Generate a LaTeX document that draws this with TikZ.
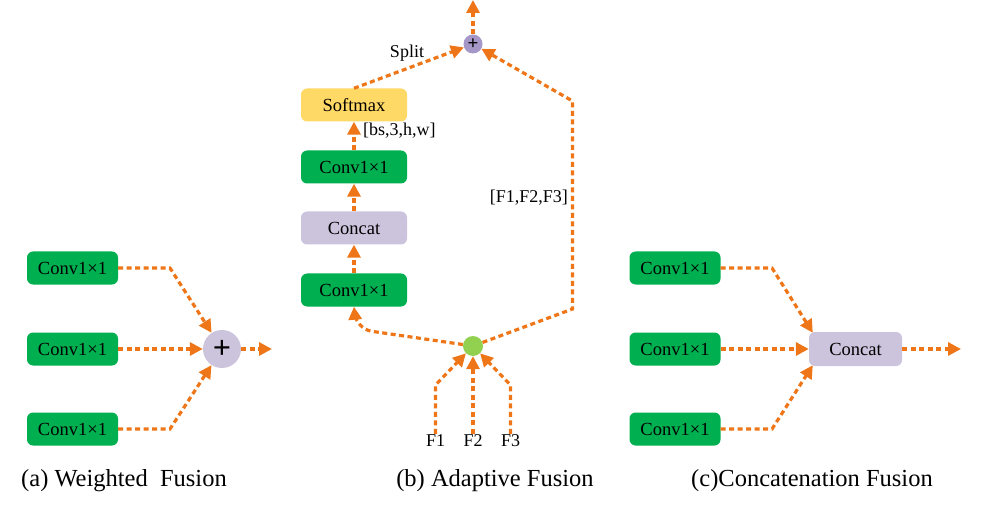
\documentclass[tikz,border=0pt]{standalone}
\usepackage{fontspec}
\setmainfont{Liberation Serif}
\usetikzlibrary{arrows.meta}
\definecolor{cgreen}{HTML}{00B050}
\definecolor{clav}{HTML}{CCC3DD}
\definecolor{cyel}{HTML}{FFD966}
\definecolor{corange}{HTML}{EE7618}
\definecolor{cpurp}{HTML}{A597C8}
\definecolor{cdot}{HTML}{92D050}
\tikzset{
  box/.style={rounded corners=6pt, minimum width=91pt, minimum height=33pt, inner sep=0pt, font=\fontsize{18.5}{21}\selectfont},
  gbox/.style={box, fill=cgreen},
  lbox/.style={box, fill=clav},
  ybox/.style={box, fill=cyel},
  arr/.style={draw=corange, line width=3.2pt, dash pattern=on 5pt off 3.5pt, -{Triangle[length=13pt,width=13pt]}},
  lbl/.style={font=\fontsize{18}{21}\selectfont, inner sep=1pt},
  captxt/.style={font=\fontsize{24.5}{28}\selectfont},
}
\begin{document}
\begin{tikzpicture}[x=1pt,y=-1pt]
\useasboundingbox (0,0) rectangle (990,529);
% ---------- (a) ----------
\node[gbox] (a1) at (72.5,268) {Conv1×1};
\node[gbox] (a2) at (72.5,349) {Conv1×1};
\node[gbox] (a3) at (72.5,429) {Conv1×1};
\node[circle, fill=clav, minimum size=38pt, inner sep=0pt, font=\bfseries\fontsize{32}{32}\selectfont] (ap) at (222,349) {+};
\coordinate (aout) at (272,349);
\draw[arr] (a1.east) -- (170,268) -- (ap);
\draw[arr] (a2.east) -- (ap);
\draw[arr] (a3.east) -- (170,429) -- (ap);
\draw[arr] (ap) -- (aout);
\node[captxt] (capa) at (124,481) {(a) Weighted\ \ Fusion};
% ---------- (b) ----------
\node[ybox, minimum width=106pt] (sm) at (354,105) {Softmax};
\node[gbox, minimum width=106pt] (b2) at (354,167) {Conv1×1};
\node[lbox, minimum width=106pt] (bc) at (354,228) {Concat};
\node[gbox, minimum width=106pt] (b1) at (354,290) {Conv1×1};
\node[circle, fill=cpurp, minimum size=19pt, inner sep=0pt, font=\bfseries\fontsize{19}{19}\selectfont] (bs) at (473,44) {+};
\node[circle, fill=cdot, minimum size=20pt, inner sep=0pt] (g) at (473,346) {};
\coordinate (btop) at (473,0);
\node[lbl] (f1) at (435.5,441) {F1};
\node[lbl] (f2) at (473,441) {F2};
\node[lbl] (f3) at (510.5,441) {F3};
\draw[arr] (f1.north) -- (435.5,385) -- (g);
\draw[arr] (f2.north) -- (g);
\draw[arr] (f3.north) -- (510.5,385) -- (g);
\draw[arr, rounded corners=16pt] (g) -- (356,329) -- (b1.south);
\draw[arr] (b1.north) -- (bc.south);
\draw[arr] (bc.north) -- (b2.south);
\draw[arr] (b2.north) -- (sm.south);
\draw[arr] (sm.north) -- (bs);
\draw[arr] (g) -- (572.5,309) -- (572.5,101) -- (bs);
\draw[arr] (bs) -- (btop);
\node[lbl, anchor=west] (bshape) at (362,131) {[bs,3,h,w]};
\node[lbl, anchor=east] (fl) at (569,198) {[F1,F2,F3]};
\node[lbl] (split) at (407,53) {Split};
\node[captxt] (capb) at (495,481) {(b) Adaptive Fusion};
% ---------- (c) ----------
\node[gbox] (c1) at (675,268) {Conv1×1};
\node[gbox] (c2) at (675,349) {Conv1×1};
\node[gbox] (c3) at (675,429) {Conv1×1};
\node[lbox, minimum width=93pt, minimum height=34pt] (cc) at (855.5,349) {Concat};
\coordinate (cout) at (961,349);
\draw[arr] (c1.east) -- (772,268) -- ([xshift=4pt,yshift=-1pt]cc.north west);
\draw[arr] (c2.east) -- (cc.west);
\draw[arr] (c3.east) -- (772,429) -- ([xshift=4pt,yshift=1pt]cc.south west);
\draw[arr] (cc.east) -- (cout);
\node[captxt] (capc) at (812,481) {(c)Concatenation Fusion};
\end{tikzpicture}
\end{document}
